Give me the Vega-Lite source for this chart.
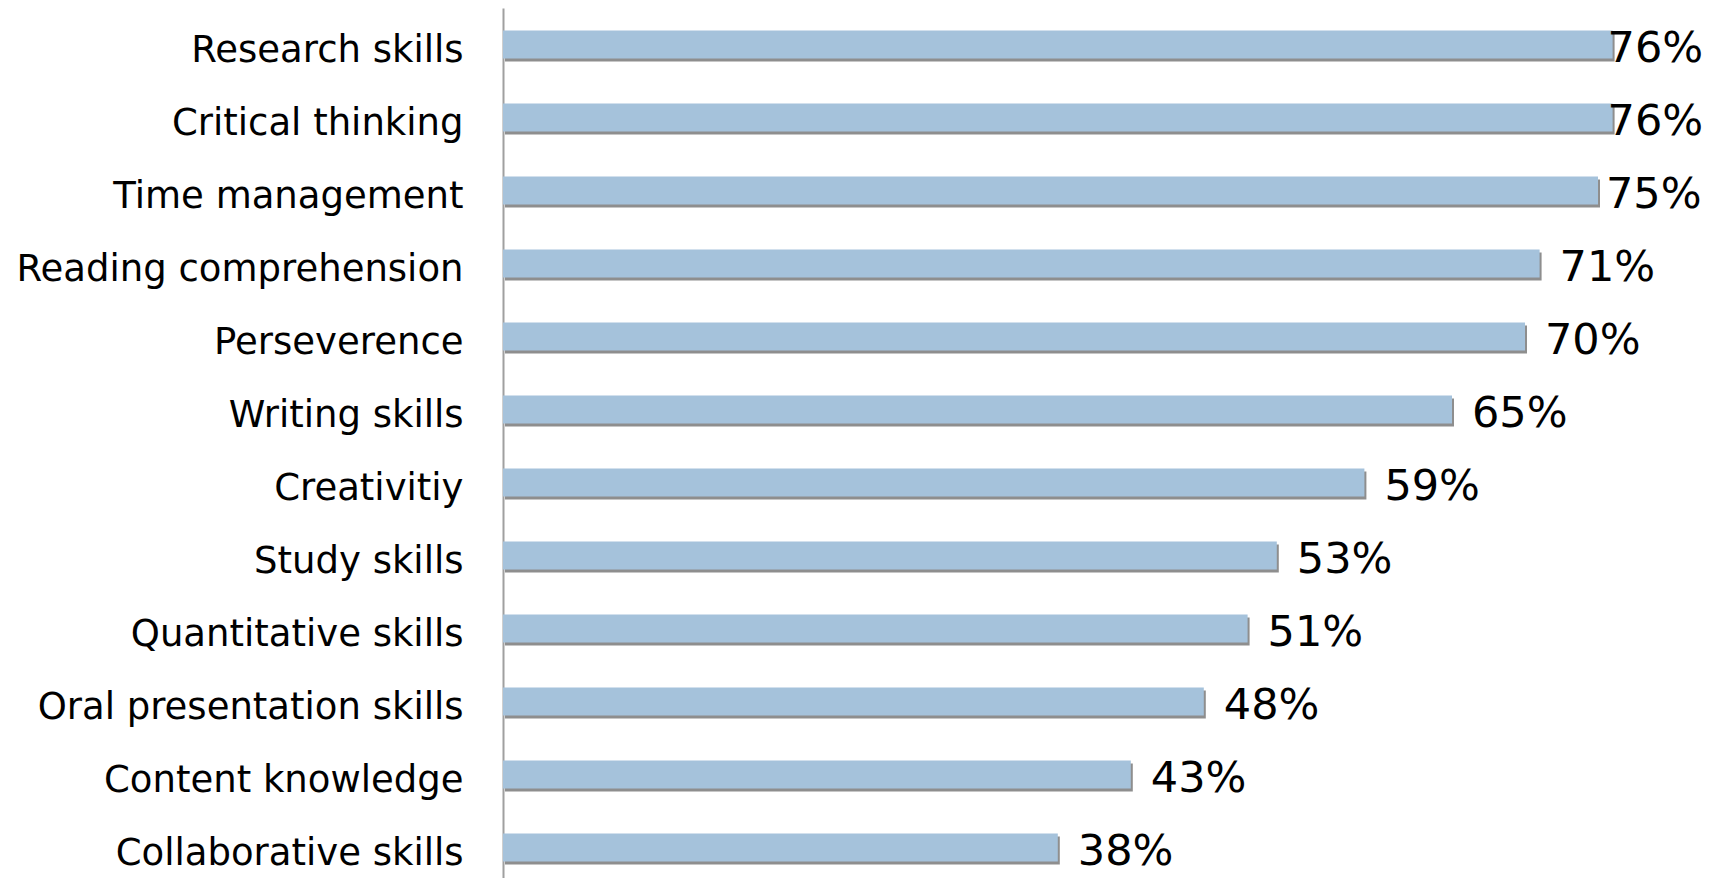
{
  "$schema": "https://vega.github.io/schema/vega-lite/v6.json",
  "width": 1168,
  "height": 876,
  "autosize": {"type": "none"},
  "padding": {"left": 503, "top": 8, "right": 48, "bottom": 0},
  "background": "white",
  "config": {"view": {"stroke": null}, "font": "DejaVu Sans"},
  "data": {
    "values": [
      {"skill": "Research skills", "value": 0.76},
      {"skill": "Critical thinking", "value": 0.76},
      {"skill": "Time management ", "value": 0.75},
      {"skill": "Reading comprehension", "value": 0.71},
      {"skill": "Perseverence", "value": 0.70},
      {"skill": "Writing skills", "value": 0.65},
      {"skill": "Creativitiy", "value": 0.59},
      {"skill": "Study skills", "value": 0.53},
      {"skill": "Quantitative skills", "value": 0.51},
      {"skill": "Oral presentation skills", "value": 0.48},
      {"skill": "Content knowledge", "value": 0.43},
      {"skill": "Collaborative skills", "value": 0.38}
    ]
  },
  "encoding": {
    "y": {
      "field": "skill",
      "type": "nominal",
      "sort": null,
      "scale": {"paddingInner": 0.615, "paddingOuter": 0.3075},
      "axis": {
        "title": null,
        "ticks": false,
        "labelFontSize": 37,
        "labelColor": "#000000",
        "labelPadding": 40,
        "labelOffset": 6,
        "labelFont": "DejaVu Sans",
        "domainColor": "#a0a0a0",
        "domainWidth": 2,
        "labelLimit": 600
      }
    },
    "x": {
      "field": "value",
      "type": "quantitative",
      "scale": {"domain": [0, 0.8], "nice": false},
      "axis": null
    }
  },
  "layer": [
    {
      "mark": {"type": "bar", "color": "#5e5e5e", "opacity": 0.7, "xOffset": 2, "yOffset": 3},
      "encoding": {}
    },
    {
      "mark": {"type": "bar", "color": "#a5c2db"},
      "encoding": {}
    },
    {
      "transform": [{"filter": "datum.value < 0.745"}],
      "mark": {"type": "text", "align": "left", "baseline": "middle", "dx": 20, "dy": 4, "fontSize": 43, "color": "#000000", "font": "DejaVu Sans"},
      "encoding": {"text": {"field": "value", "type": "quantitative", "format": ".0%"}}
    },
    {
      "transform": [{"filter": "datum.value > 0.745 && datum.value < 0.755"}],
      "mark": {"type": "text", "align": "left", "baseline": "middle", "dx": 8, "dy": 4, "fontSize": 43, "color": "#000000", "font": "DejaVu Sans"},
      "encoding": {"text": {"field": "value", "type": "quantitative", "format": ".0%"}}
    },
    {
      "transform": [{"filter": "datum.value > 0.755"}],
      "mark": {"type": "text", "align": "left", "baseline": "middle", "dx": -5, "dy": 4, "fontSize": 43, "color": "#000000", "font": "DejaVu Sans"},
      "encoding": {"text": {"field": "value", "type": "quantitative", "format": ".0%"}}
    }
  ]
}
